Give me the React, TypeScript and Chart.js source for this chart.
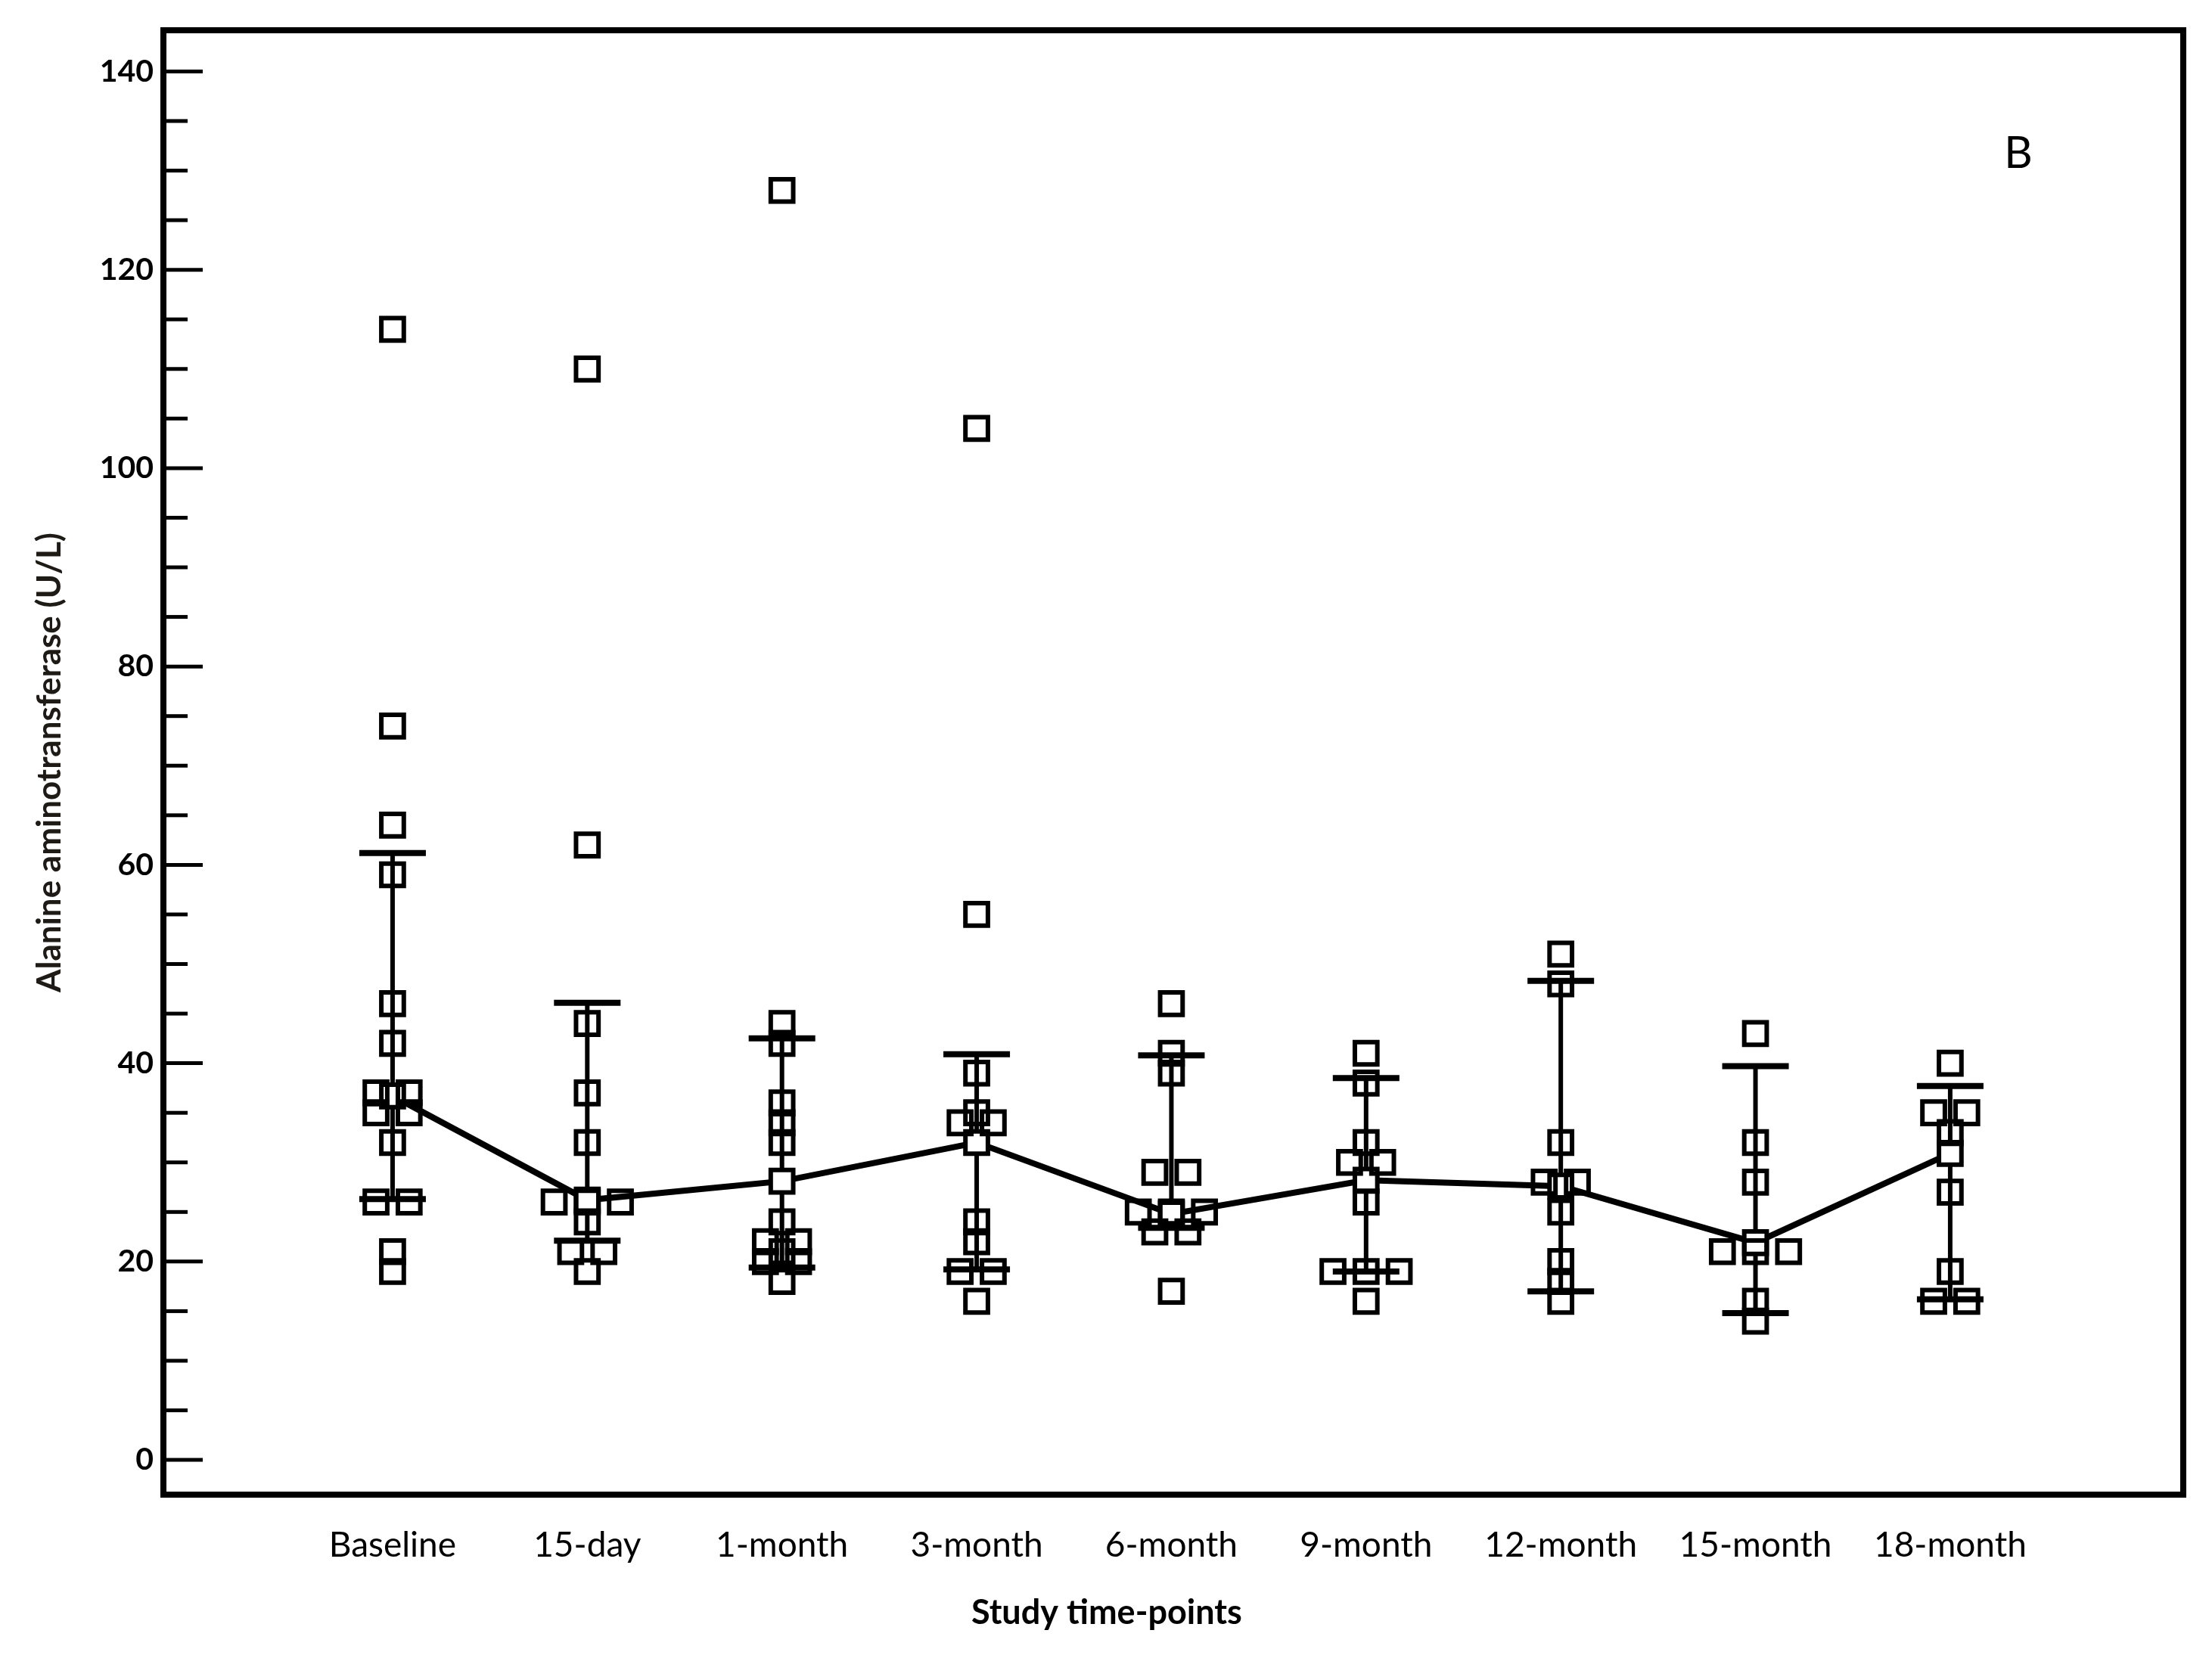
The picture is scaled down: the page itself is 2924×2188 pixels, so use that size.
import React, { useEffect, useRef } from 'react';
import { Chart, registerables } from 'chart.js';

Chart.register(...registerables);

// ---------- data ----------
const categories = ['Baseline', '15-day', '1-month', '3-month', '6-month', '9-month', '12-month', '15-month', '18-month'];

const baselineValues = [114, 74, 64, 59, 46, 42, 37, 37, 35, 35, 32, 26, 26, 21, 19];
const day15Values = [110, 62, 44, 37, 32, 26, 26, 26, 24, 21, 21, 19];
const month1Values = [128, 44, 42, 36, 34, 32, 24, 22, 22, 21, 20, 20, 18];
const month3Values = [104, 55, 39, 35, 34, 34, 24, 22, 19, 19, 16];
const month6Values = [46, 41, 39, 29, 29, 25, 25, 25, 23, 23, 17];
const month9Values = [41, 38, 32, 30, 30, 26, 19, 19, 19, 16];
const month12Values = [51, 48, 32, 28, 28, 25, 20, 18, 16];
const month15Values = [43, 32, 28, 21, 21, 21, 16, 14];
const month18Values = [40, 35, 35, 33, 27, 19, 16, 16];

const centralValues = [36.7, 26.2, 28.1, 32.0, 24.8, 28.2, 27.6, 21.9, 30.9];
const upperBar = [61.2, 46.1, 42.5, 40.9, 40.8, 38.5, 48.3, 39.7, 37.7];
const lowerBar = [26.3, 22.1, 19.4, 19.2, 23.4, 19.0, 17.0, 14.8, 16.2];

const yTickLabels = [0, 20, 40, 60, 80, 100, 120, 140];
const yMinorStep = 5;

const xTitle = 'Study time-points';
const yTitle = 'Alanine aminotransferase (U/L)';
const panelLetter = 'B';

// ---------- derived structures ----------
const pointValues = [
  baselineValues, day15Values, month1Values, month3Values, month6Values,
  month9Values, month12Values, month15Values, month18Values,
];

const JITTER = 0.17; // category units between duplicate markers
const CAP = 0.171; // half width of error-bar caps, category units

function buildPoints() {
  const out: { x: number; y: number }[] = [];
  pointValues.forEach((vals, i) => {
    const counts = new Map<number, number>();
    vals.forEach((v) => counts.set(v, (counts.get(v) || 0) + 1));
    const seen = new Map<number, number>();
    vals.forEach((v) => {
      const n = counts.get(v) || 1;
      const k = seen.get(v) || 0;
      seen.set(v, k + 1);
      out.push({ x: i + (k - (n - 1) / 2) * JITTER, y: v });
    });
  });
  return out;
}

function buildWhiskers() {
  const out: { x: number; y: number | null }[] = [];
  categories.forEach((_, i) => {
    out.push({ x: i, y: lowerBar[i] }, { x: i, y: upperBar[i] }, { x: i, y: null });
  });
  return out;
}

function buildCaps() {
  const out: { x: number; y: number | null }[] = [];
  categories.forEach((_, i) => {
    [upperBar[i], lowerBar[i]].forEach((v) => {
      out.push({ x: i - CAP, y: v }, { x: i + CAP, y: v }, { x: i + CAP, y: null });
    });
  });
  return out;
}

const W = 2924;
const H = 2188;

const frameAndTicks = {
  id: 'frameAndTicks',
  afterDatasetsDraw(chart: any) {
    const { ctx, chartArea: a, scales } = chart;
    const ys = scales.y;
    ctx.save();
    ctx.strokeStyle = '#000';
    ctx.lineCap = 'butt';
    ctx.lineWidth = 5;
    const maxTick = yTickLabels[yTickLabels.length - 1];
    for (let v = yTickLabels[0]; v <= maxTick; v += yMinorStep) {
      const py = ys.getPixelForValue(v);
      const len = yTickLabels.includes(v) ? 52 : 32;
      ctx.beginPath();
      ctx.moveTo(a.left, py);
      ctx.lineTo(a.left + len, py);
      ctx.stroke();
    }
    ctx.lineWidth = 8;
    ctx.lineJoin = 'miter';
    ctx.strokeRect(a.left, a.top, a.right - a.left, a.bottom - a.top);

    ctx.fillStyle = '#000';
    ctx.textAlign = 'center';
    ctx.textBaseline = 'middle';
    ctx.font = 'bold 45px Lato';
    ctx.fillText(xTitle, a.left + (a.right - a.left) * 0.467, a.bottom + 156);
    ctx.font = '58px Lato';
    ctx.fillText(panelLetter, a.right - 218, a.top + 163);
    ctx.restore();
  },
};

export default function App() {
  const canvasRef = useRef<HTMLCanvasElement | null>(null);

  useEffect(() => {
    document.body.style.margin = '0';
    const canvas = canvasRef.current;
    if (!canvas) return;

    const chart = new Chart(canvas, {
      type: 'scatter',
      data: {
        datasets: [
          {
            label: 'whiskers',
            data: buildWhiskers(),
            showLine: true,
            spanGaps: false,
            borderColor: '#000',
            borderWidth: 6,
            pointRadius: 0,
            order: 6,
          } as any,
          {
            label: 'caps',
            data: buildCaps(),
            showLine: true,
            spanGaps: false,
            borderColor: '#000',
            borderWidth: 8,
            borderCapStyle: 'butt',
            pointRadius: 0,
            order: 5,
          } as any,
          {
            label: 'central',
            data: centralValues.map((v, i) => ({ x: i, y: v })),
            showLine: true,
            borderColor: '#000',
            borderWidth: 8,
            pointRadius: 0,
            order: 4,
          } as any,
          {
            label: 'central markers',
            data: centralValues.map((v, i) => ({ x: i, y: v })),
            showLine: false,
            pointStyle: 'rect',
            pointRadius: 21,
            pointBorderWidth: 6,
            pointBorderColor: '#000',
            pointBackgroundColor: '#fff',
            order: 3,
          } as any,
          {
            label: 'individual values',
            data: buildPoints(),
            showLine: false,
            pointStyle: 'rect',
            pointRadius: 21,
            pointBorderWidth: 6,
            pointBorderColor: '#000',
            pointBackgroundColor: 'rgba(0,0,0,0)',
            order: 2,
          } as any,
        ],
      },
      options: {
        animation: false,
        responsive: false,
        devicePixelRatio: 1,
        events: [],
        layout: { padding: { left: 0, right: 38, top: 40, bottom: 0 } },
        plugins: {
          legend: { display: false },
          tooltip: { enabled: false },
        },
        scales: {
          x: {
            type: 'linear',
            min: -1.177,
            max: 9.197,
            grid: { display: false, drawTicks: false },
            border: { display: false },
            afterBuildTicks: (axis: any) => {
              axis.ticks = categories.map((_, i) => ({ value: i }));
            },
            afterFit: (scale: any) => {
              scale.height = 212;
            },
            ticks: {
              autoSkip: false,
              maxRotation: 0,
              minRotation: 0,
              padding: 40,
              color: '#000',
              font: { family: 'Lato', size: 46 },
              callback: (v: any) => categories[Math.round(Number(v))] ?? '',
            },
          },
          y: {
            type: 'linear',
            min: -3.5,
            max: 144.15,
            grid: { display: false, drawTicks: false },
            border: { display: false },
            afterBuildTicks: (axis: any) => {
              axis.ticks = yTickLabels.map((v) => ({ value: v }));
            },
            afterFit: (scale: any) => {
              scale.width = 216;
            },
            ticks: {
              padding: 13,
              color: '#000',
              font: { family: 'Lato', size: 41, weight: 'bold' },
              callback: (v: any) => String(v),
            },
            title: {
              display: true,
              text: yTitle,
              color: '#1e1a16',
              font: { family: 'Lato', size: 44, weight: 'bold' },
              padding: { top: 39, bottom: 0 },
            },
          },
        },
      } as any,
      plugins: [frameAndTicks],
    });

    return () => chart.destroy();
  }, []);

  return (
    <div style={{ width: W, height: H, background: '#fff' }}>
      <canvas ref={canvasRef} width={W} height={H} style={{ width: W, height: H, display: 'block' }} />
    </div>
  );
}
